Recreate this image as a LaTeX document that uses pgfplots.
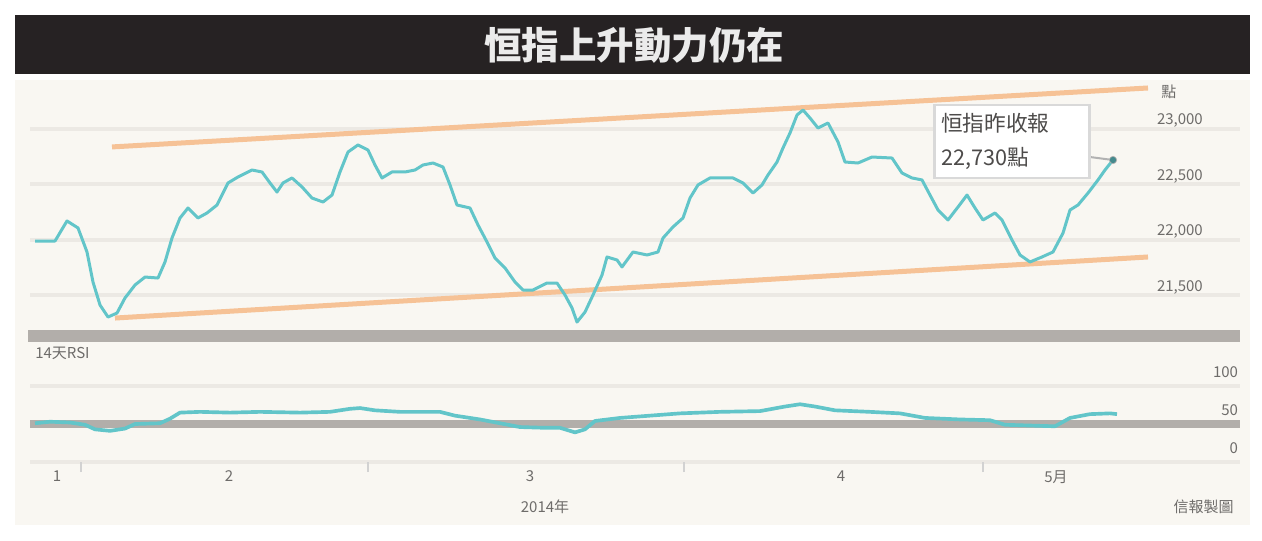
\documentclass[border=0pt]{standalone}
\usepackage{fontspec}
\setmainfont{Noto Sans CJK TC}
\usepackage{pgfplots}
\pgfplotsset{compat=1.18}
\definecolor{cy}{RGB}{98,197,201}
\definecolor{org}{RGB}{246,194,150}
\definecolor{grd}{RGB}{236,233,228}
\definecolor{sep}{RGB}{178,174,170}
\definecolor{panel}{RGB}{249,247,242}
\definecolor{ttl}{RGB}{38,34,35}
\definecolor{txt}{RGB}{110,108,106}
\begin{document}
\begin{tikzpicture}
\path[use as bounding box] (0,0) rectangle (757.2pt,-324pt);
\fill[white] (0,0) rectangle (757.2pt,-324pt);
\begin{scope}[x=0.6pt,y=-0.6pt]
\fill[panel] (15,80) rectangle (1250,525);
\fill[ttl] (15,15) rectangle (1250,74);
\node[text=white!92!black,font=\fontsize{22.5}{25}\selectfont\bfseries] at (634,45) {恒指上升動力仍在};
\fill[sep] (28,330) rectangle (1240,342);
\node[anchor=west,text=txt,font=\fontsize{9}{10}\selectfont,inner sep=0pt] at (35,353) {14天RSI};
\node[text=txt,font=\fontsize{9}{10}\selectfont,inner sep=0pt] at (545,507) {2014年};
\node[anchor=east,text=txt,font=\fontsize{9}{10}\selectfont,inner sep=0pt] at (1234,507) {信報製圖};
\node[anchor=west,text=txt,font=\fontsize{9}{10}\selectfont,inner sep=0pt] at (1161,92) {點};
\end{scope}

\begin{axis}[at={(18pt,-198pt)},anchor=south west,scale only axis,width=726pt,height=150pt,
 xmin=30,xmax=1240,ymin=21186,ymax=23442,
 scaled y ticks=false,
 axis line style={draw=none}, tick style={draw=none}, xtick=\empty,
 ytick={21500,22000,22500,23000}, yticklabels={{21,500},{22,000},{22,500},{23,000}},
 ymajorgrids, grid style={grd,line width=2.4pt},
 yticklabel pos=right,
 yticklabel style={anchor=south west,xshift=-50pt,yshift=0.5pt,text=txt,font=\fontsize{9}{10}\selectfont,inner sep=0pt},
 clip=false]
\addplot[org,line width=3pt] coordinates {(112,22838) (1148,23370)};
\addplot[org,line width=3pt] coordinates {(115,21294) (1148,21845)};
\addplot[cy,line width=1.8pt,line join=round] table {
x y
35 21989
55 21989
67 22170
78 22107
87 21890
93 21619
100 21412
108 21303
117 21339
125 21475
135 21592
145 21664
158 21655
165 21800
172 22016
180 22197
188 22287
198 22197
207 22242
217 22314
228 22513
238 22567
252 22630
262 22612
270 22513
277 22431
283 22513
292 22558
302 22477
312 22377
323 22341
332 22404
340 22612
348 22792
358 22856
368 22810
375 22675
382 22558
392 22612
405 22612
415 22630
423 22675
433 22693
443 22657
450 22495
457 22314
470 22287
478 22134
487 21980
495 21836
505 21746
515 21619
523 21547
533 21547
547 21610
557 21610
565 21502
572 21385
577 21258
585 21348
593 21502
602 21682
607 21845
617 21818
622 21755
633 21890
647 21863
658 21890
663 22016
673 22116
683 22197
690 22377
698 22495
710 22558
733 22558
743 22513
753 22422
762 22495
768 22585
777 22702
783 22829
790 22964
797 23126
803 23171
810 23099
818 23009
828 23054
838 22883
845 22702
858 22693
872 22747
892 22738
902 22603
912 22558
922 22540
930 22404
938 22269
948 22179
958 22296
967 22404
975 22287
983 22179
995 22242
1002 22179
1012 21998
1020 21863
1030 21800
1042 21845
1053 21890
1063 22061
1070 22269
1078 22314
1088 22422
1098 22540
1105 22630
1113 22720
};
\draw[gray!60,line width=1.2pt] (axis cs:1090,22747) -- (axis cs:1113,22720);
\addplot[only marks,mark=*,mark size=2.2pt,draw=gray!60,fill=cy!70!black] coordinates {(1113,22720)};
\node[fill=white,draw=gray!30,line width=1.5pt,align=left,inner sep=4pt,text=txt!70!black,
 font=\fontsize{13}{20}\selectfont,text width=85pt,minimum height=43.8pt] at (axis cs:1012,22887) {恒指昨收報\\22,730點};
\end{axis}

\begin{axis}[at={(18pt,-277.2pt)},anchor=south west,scale only axis,width=726pt,height=67.2pt,
 xmin=30,xmax=1240,ymin=0,ymax=147.4,
 axis line style={draw=none},
 major tick length=0pt, tick align=outside, xtick pos=bottom,
 ytick={0,100}, yticklabels={0,100},
 ymajorgrids, grid style={grd,line width=2.4pt},
 extra y ticks={50}, extra y tick labels={50},
 extra y tick style={grid style={sep,line width=5pt}},
 yticklabel pos=right,
 yticklabel style={anchor=south east,xshift=-1pt,yshift=4.5pt,text=txt,font=\fontsize{9}{10}\selectfont,inner sep=0pt},
 xtick={57,229,530,841,1056}, xticklabels={1,2,3,4,5月},
 xticklabel style={text=txt,font=\fontsize{9}{10}\selectfont,inner sep=0pt,yshift=-5pt},
 extra x ticks={81,368,684,983}, extra x tick labels={},
 extra x tick style={major tick length=6pt,tick style={draw=gray!35,line width=1.2pt}},
 clip=false]
\addplot[cy,line width=2.2pt,line join=round] table {
x y
35 51
50 53
70 52
85 49
95 43
110 41
125 44
135 50
160 51
170 57
180 65
200 66
230 65
260 66
300 65
330 66
350 70
360 71
375 68
400 66
440 66
455 61
480 56
500 51
520 46
545 45
560 45
575 39
585 43
595 54
620 58
650 61
680 64
720 66
760 67
785 73
800 76
815 73
835 68
870 66
900 64
925 58
960 56
990 55
1005 49
1030 48
1055 47
1070 58
1090 63
1110 64
1117 63
};
\end{axis}
\end{tikzpicture}
\end{document}
